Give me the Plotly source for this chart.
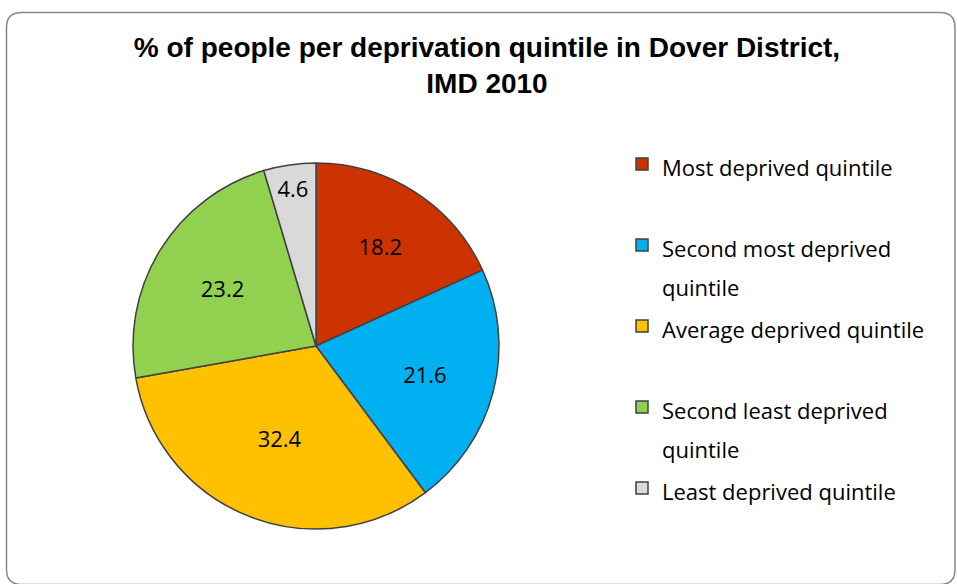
import plotly.graph_objects as go

# Share of people per IMD 2010 deprivation quintile, Dover District
quintiles = [
    "Most deprived quintile",
    "Second most deprived<br>quintile",
    "Average deprived quintile",
    "Second least deprived<br>quintile",
    "Least deprived quintile",
]
percentages = [18.2, 21.6, 32.4, 23.2, 4.6]
slice_colours = ["#CC3300", "#00B0F0", "#FFC000", "#92D050", "#D9D9D9"]

W, H = 957, 584

# pad legend entries to two lines so every entry is equally tall;
# the legend font sets the line spacing, the spans set the visible size
legend_labels = []
for q in quintiles:
    n = q.count("<br>") + 1
    lines = [f"<span style='font-size:22px'>{s}</span>" for s in q.split("<br>")]
    legend_labels.append("<br>".join(lines) + "<br>&nbsp;" * (2 - n))

fig = go.Figure(
    go.Pie(
        labels=legend_labels,
        values=percentages,
        sort=False,
        direction="clockwise",
        rotation=0,
        marker=dict(colors=slice_colours, line=dict(color="#404040", width=1.5)),
        textinfo="value",
        textposition="inside",
        insidetextorientation="horizontal",
        textfont=dict(family="Open Sans, sans-serif", size=22, color="black"),
        domain=dict(x=[133 / W, 499 / W], y=[1 - 529 / H, 1 - 163 / H]),
        hoverinfo="value",
    )
)

# rounded frame round the chart area
x0, y0, x1, y1, r = 6.5, 12.5, 955, 584.5, 15
def px(x):
    return x / W
def py(y):
    return 1 - y / H
frame = (
    f"M{px(x0 + r)},{py(y0)} L{px(x1 - r)},{py(y0)} Q{px(x1)},{py(y0)} {px(x1)},{py(y0 + r)} "
    f"L{px(x1)},{py(y1 - r)} Q{px(x1)},{py(y1)} {px(x1 - r)},{py(y1)} "
    f"L{px(x0 + r)},{py(y1)} Q{px(x0)},{py(y1)} {px(x0)},{py(y1 - r)} "
    f"L{px(x0)},{py(y0 + r)} Q{px(x0)},{py(y0)} {px(x0 + r)},{py(y0)} Z"
)

fig.update_layout(
    width=W,
    height=H,
    margin=dict(l=0, r=0, t=0, b=0),
    paper_bgcolor="white",
    title=dict(
        text="<b>% of people per deprivation quintile in Dover District,<br>IMD 2010</b>",
        x=487 / W,
        xanchor="center",
        y=1 - 57 / H,
        yanchor="top",
        font=dict(family="Arial, Liberation Sans, sans-serif", size=28, color="black"),
    ),
    legend=dict(
        x=622 / W,
        xanchor="left",
        y=1 - 138 / H,
        yanchor="top",
        valign="top",
        font=dict(family="Open Sans, sans-serif", size=30, color="black"),
        bgcolor="rgba(0,0,0,0)",
    ),
    shapes=[
        dict(
            type="path",
            xref="paper",
            yref="paper",
            path=frame,
            line=dict(color="#878787", width=1.5),
            layer="below",
        )
    ],
)

fig.write_html(
    "out.html",
    config={"displayModeBar": False},
    post_script="document.body.style.margin='0';",
)
